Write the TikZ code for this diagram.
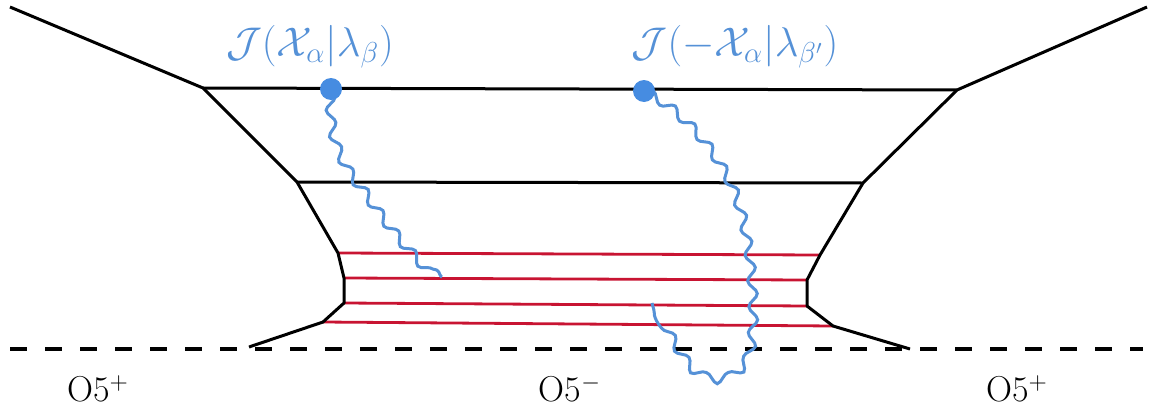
\documentclass[tikz,border=0pt]{standalone}
\usetikzlibrary{decorations.pathmorphing}
\definecolor{brane}{RGB}{200,20,50}
\definecolor{wblue}{RGB}{85,145,215}
\definecolor{dblue}{RGB}{70,140,225}
\begin{document}
\begin{tikzpicture}[x=0.5pt,y=-0.5pt,
  web/.style={line width=1.5pt, line join=round},
  redline/.style={brane, line width=1.4pt},
  orient/.style={line width=2.2pt, dash pattern=on 8.5pt off 9pt},
  wave/.style={wblue, line width=1.5pt, decorate, decoration={snake, amplitude=2.2pt, segment length=13pt}},
  dot/.style={circle, fill=dblue, inner sep=0pt, minimum size=11pt},
  lab/.style={text=wblue, font=\fontsize{20}{24}\selectfont},
  olab/.style={font=\fontsize{18}{22}\selectfont}]
\useasboundingbox (0,0) rectangle (1149,412);
% vertices
\coordinate (TL) at (10,7);
\coordinate (A) at (203,88);
\coordinate (B) at (957,90);
\coordinate (TR) at (1147,7);
\coordinate (C) at (297,182);
\coordinate (D) at (863,183);
\coordinate (E) at (338,253);
\coordinate (F) at (820,255);
\coordinate (G) at (344,278);
\coordinate (H) at (807,280);
\coordinate (I) at (344,303);
\coordinate (J) at (807,306);
\coordinate (K) at (323,322);
\coordinate (L) at (833,326);
\coordinate (M) at (249,347);
\coordinate (N) at (910,349);
\coordinate (OL) at (10,349);
\coordinate (OR) at (1143,349);
% orientifold
\draw[orient] (OL) -- (OR);
% red branes
\draw[redline] (E) -- (F);
\draw[redline] (G) -- (H);
\draw[redline] (I) -- (J);
\draw[redline] (K) -- (L);
% web
\draw[web] (TL) -- (A) -- (C) -- (E) -- (G) -- (I) -- (K) -- (M);
\draw[web] (TR) -- (B) -- (D) -- (F) -- (H) -- (J) -- (L) -- (N);
\draw[web] (A) -- (B);
\draw[web] (C) -- (D);
% strings
\coordinate (p1) at (331,89);
\coordinate (p2) at (644,91);
\coordinate (q1) at (442,277);
\coordinate (q2) at (652,303);
\draw[wave] (p1) .. controls (329,130) and (340,155) .. (362,182)
  .. controls (380,210) and (415,255) .. (q1);
\draw[wave] (p2) .. controls (680,110) and (725,160) .. (737,215)
  .. controls (748,260) and (750,320) .. (745,345)
  .. controls (738,380) and (700,387) .. (680,357)
  .. controls (665,335) and (655,315) .. (q2);
\node[dot] (d1) at (p1) {};
\node[dot] (d2) at (p2) {};
% labels
\node[lab] (l1) at (310,47) {$\mathcal{J}(\mathcal{X}_\alpha|\lambda_\beta)$};
\node[lab] (l2) at (735,47) {$\mathcal{J}(-\mathcal{X}_\alpha|\lambda_{\beta'})$};
\node[olab] (o1) at (98,389) {O5$^+$};
\node[olab] (o2) at (570,389) {O5$^-$};
\node[olab] (o3) at (1017,389) {O5$^+$};
\end{tikzpicture}
\end{document}
